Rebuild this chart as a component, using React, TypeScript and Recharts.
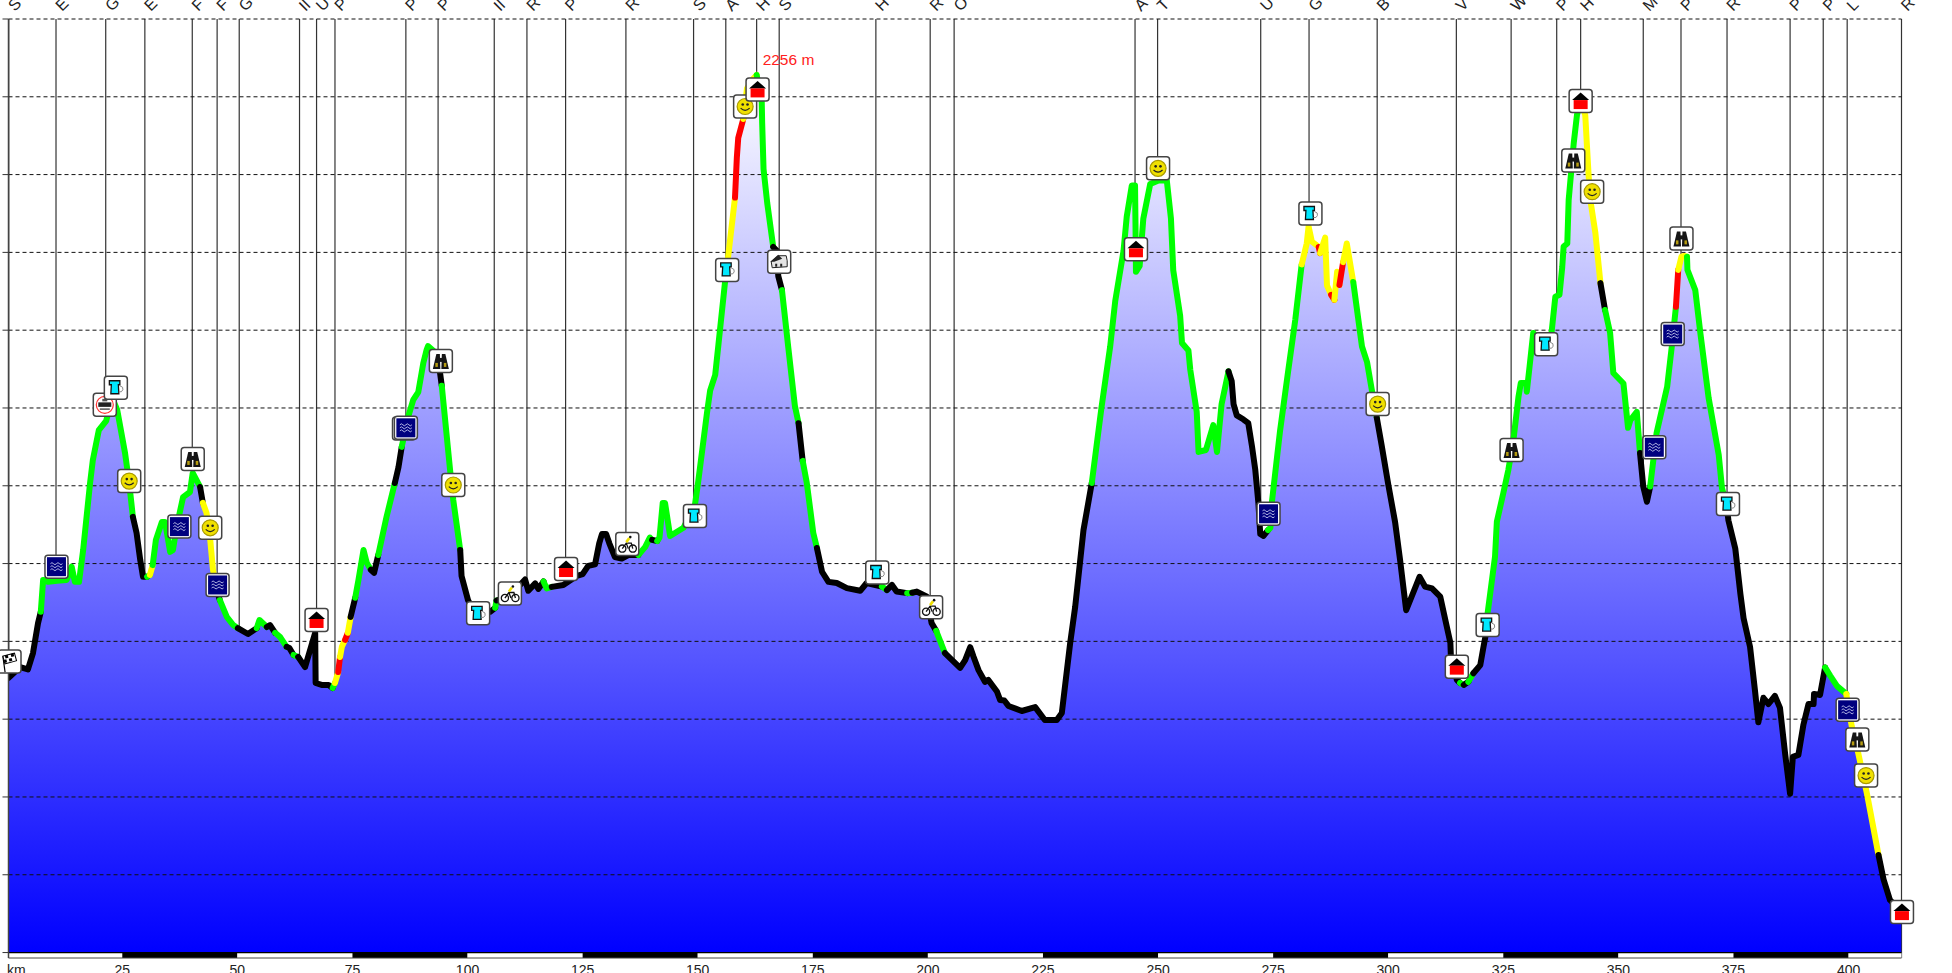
import React from 'react';
import {
  ComposedChart,
  Area,
  Line,
  XAxis,
  YAxis,
  CartesianGrid,
  ReferenceLine,
  ReferenceArea,
  ReferenceDot,
} from 'recharts';

const FONT = '"Liberation Sans", Arial, sans-serif';

// route profile, km and metres
const km = [
  0.3, 2.8, 4.5, 5.6, 6.7, 7.3, 7.8, 8.9, 10.8, 12.9, 14.0, 14.7, 15.6, 16.5, 18.0, 18.6, 19.9, 21.5, 22.8, 23.9,
  25.6, 26.5, 27.3, 28.1, 28.9, 29.5, 30.4, 31.0, 31.6, 32.3, 33.6, 34.3, 35.4, 36.0, 36.8, 38.2, 39.7, 40.3, 41.9, 42.5,
  43.3, 44.1, 44.7, 45.5, 46.2, 47.7, 49.1, 50.1, 52.3, 54.2, 54.8, 56.4, 57.1, 58.2, 59.3, 60.7, 61.3, 62.2, 63.2, 64.7,
  66.9, 67.0, 68.3, 69.8, 70.7, 71.2, 71.9, 72.3, 72.7, 73.4, 74.0, 74.6, 75.6, 76.3, 77.4, 78.1, 79.0, 79.7, 80.6, 82.4,
  84.2, 85.0, 85.7, 87.1, 88.2, 89.3, 90.4, 91.1, 91.4, 92.9, 94.0, 94.4, 96.2, 96.9, 98.4, 98.7, 100.1, 101.4, 104.9, 106.0,
  106.3, 109.2, 112.5, 113.2, 114.7, 115.4, 116.5, 117.2, 118.3, 120.8, 123.7, 125.0, 126.2, 127.7, 128.6, 129.2, 130.1, 130.8, 132.0, 133.5,
  134.9, 137.1, 138.6, 139.6, 140.1, 141.2, 141.7, 142.4, 142.9, 144.0, 146.9, 149.4, 150.1, 152.0, 152.7, 153.8, 154.5, 155.9, 156.2, 156.7,
  158.1, 158.5, 158.8, 159.9, 160.7, 161.8, 162.8, 163.9, 164.0, 164.3, 165.1, 166.4, 167.2, 167.5, 168.3, 169.7, 171.1, 171.9, 172.8, 173.7,
  175.1, 175.9, 177.0, 178.4, 180.2, 182.4, 185.3, 186.7, 190.0, 191.1, 192.2, 193.2, 195.5, 196.6, 197.6, 199.8, 200.8, 201.8, 203.7, 207.0,
  208.1, 209.2, 209.9, 211.0, 212.4, 213.1, 215.0, 215.7, 216.6, 217.5, 220.4, 223.3, 225.4, 228.0, 229.1, 230.9, 232.0, 233.8, 235.6,
  237.7, 239.6, 240.7, 242.5, 243.2, 244.3, 245.0, 245.1, 245.2, 246.0, 246.8, 248.3, 250.1, 251.9, 252.8, 253.3, 254.8, 255.2, 256.6, 257.0,
  258.4, 258.8, 260.4, 262.0, 262.8, 263.8, 265.3, 266.0, 266.4, 267.1, 268.5, 269.6, 270.4, 271.1, 271.8, 272.2, 272.9, 273.9, 274.4, 274.7,
  276.5, 278.3, 279.8, 281.2, 282.3, 282.7, 283.4, 284.9, 285.2, 286.3, 286.7, 287.6, 288.3, 288.9, 289.4, 290.2, 291.0, 292.4, 294.3, 295.4,
  296.4, 297.5, 298.6, 300.0, 301.5, 302.6, 303.9, 306.8, 308.0, 309.5, 311.3, 312.4, 313.5, 313.6, 314.9, 315.6, 316.4, 317.4, 318.5, 320.0,
  320.7, 321.3, 321.6, 323.2, 323.6, 325.0, 326.1, 327.2, 328.3, 328.8, 330.0, 330.1, 330.7, 331.5, 332.8, 335.0, 335.5, 336.3, 337.2, 337.8, 338.1, 338.9, 339.2, 340.3, 341.0,
  341.8, 342.8, 343.5, 343.9, 345.0, 346.1, 347.1, 348.2, 348.9, 351.1, 352.1, 352.6, 354.0, 354.7, 355.4, 356.2, 356.9, 358.3, 360.6, 361.6,
  362.5, 363.0, 363.7, 364.3, 364.9, 365.0, 366.7, 367.8, 369.6, 371.8, 372.5, 373.5, 373.9, 375.4, 376.5, 377.2, 378.6, 379.7, 380.4, 381.5,
  382.6, 384.0, 385.1, 386.2, 387.3, 387.9, 389.1, 390.2, 391.3, 392.4, 392.5, 393.8, 394.9, 396.0, 397.5, 399.5, 400.7, 402.1, 404.0, 406.5,
  407.6, 409.0, 411.5,
];

const elevation = [
  706, 734, 728, 770, 847, 876, 958, 953, 956, 958, 992, 953, 953, 1035, 1207, 1266, 1343, 1367, 1426, 1395,
  1284, 1207, 1120, 1079, 1009, 966, 966, 971, 996, 1061, 1107, 1107, 1030, 1035, 1094, 1171, 1184, 1233, 1197, 1156,
  1130, 1061, 984, 932, 906, 863, 842, 834, 819, 834, 855, 837, 842, 822, 811, 786, 783, 765, 760, 734,
  822, 693, 688, 688, 680, 693, 721, 760, 786, 804, 822, 863, 912, 958, 1035, 1002, 984, 976, 1022, 1120,
  1207, 1248, 1300, 1377, 1421, 1441, 1516, 1549, 1559, 1544, 1493, 1457, 1241, 1163, 1035, 968, 906, 876, 876, 886,
  905, 917, 959, 930, 949, 935, 954, 936, 940, 945, 968, 973, 994, 998, 1052, 1076, 1076, 1052, 1017, 1013,
  1022, 1022, 1043, 1067, 1061, 1058, 1067, 1156, 1156, 1071, 1092, 1151, 1210, 1386, 1445, 1485, 1563, 1720, 1750, 1798,
  1941, 2044, 2094, 2143, 2221, 2243, 2256, 2192, 2133, 2014, 1927, 1814, 1804, 1739, 1703, 1553, 1406, 1361, 1264, 1207,
  1079, 1040, 979, 953, 950, 937, 930, 950, 941, 932, 945, 928, 924, 925, 928, 915, 847, 827, 770, 732,
  752, 785, 761, 726, 696, 701, 671, 649, 648, 634, 621, 631, 598, 598, 616, 795, 889, 1086, 1207,
  1400, 1558, 1675, 1804, 1892, 1972, 1972, 1872, 1750, 1765, 1887, 1976, 1985, 1985, 1887, 1754, 1637, 1567, 1548, 1498,
  1390, 1287, 1292, 1356, 1287, 1410, 1494, 1469, 1410, 1381, 1371, 1361, 1302, 1243, 1155, 1076, 1071, 1086, 1092, 1155,
  1341, 1498, 1626, 1769, 1823, 1867, 1828, 1814, 1798, 1838, 1715, 1691, 1678, 1750, 1716, 1775, 1823, 1724, 1558, 1518,
  1449, 1376, 1302, 1204, 1106, 1007, 880, 966, 941, 936, 915, 855, 796, 765, 701, 693, 688, 696, 718, 739,
  786, 824, 873, 1018, 1108, 1181, 1241, 1318, 1429, 1464, 1464, 1442, 1506, 1593, 1575, 1575, 1596, 1686, 1691, 1762, 1815, 1823, 1935, 2081, 2153,
  2192, 2153, 2004, 1935, 1850, 1721, 1652, 1593, 1490, 1463, 1349, 1369, 1390, 1284, 1198, 1159, 1198, 1336, 1455, 1558,
  1660, 1755, 1789, 1791, 1789, 1755, 1703, 1593, 1426, 1279, 1194, 1151, 1111, 1038, 922, 859, 786, 670, 592, 655,
  639, 660, 629, 513, 408, 503, 508, 586, 639, 639, 665, 662, 733, 712, 685, 665, 581, 513, 408, 251,
  188, 135, 104,
];

// km where the gradient colour of the line changes
const gradeStartKm = [
  0.3, 7.3, 27.3, 30.4, 31.0, 31.6, 41.9, 42.5, 45.5, 46.2, 50.1, 54.2, 56.4, 58.2, 60.7, 62.2, 63.2, 70.7, 71.2, 71.9,
  72.3, 73.4, 74.0, 74.6, 75.6, 79.0, 80.6, 84.2, 85.7, 94.0, 94.4, 98.4, 106.0, 106.3, 116.5, 118.3, 137.1, 140.1, 141.2, 156.2,
  158.1, 159.9, 162.8, 166.4, 168.3, 171.9, 172.8, 175.9, 190.0, 191.1, 195.5, 196.6, 201.8, 203.7, 235.6, 265.3, 273.9, 281.2, 284.9, 285.2,
  287.6, 288.3, 289.4, 290.2, 292.4, 297.5, 315.6, 316.4, 317.4, 318.5, 321.3, 341.8, 346.1, 347.1, 354.7, 356.9, 362.5, 363.0, 364.9, 373.5,
  394.9, 399.5, 406.5,
];
const gradeColor = [
  'k', 'g', 'k', 'g', 'y', 'g', 'k', 'y', 'k', 'g', 'k', 'g', 'k', 'g', 'k', 'g', 'k', 'g', 'y', 'r',
  'y', 'r', 'y', 'k', 'g', 'k', 'g', 'k', 'g', 'k', 'g', 'k', 'g', 'k', 'g', 'k', 'g', 'k', 'g', 'y',
  'r', 'y', 'g', 'k', 'g', 'k', 'g', 'k', 'g', 'k', 'g', 'k', 'g', 'k', 'g', 'k', 'g', 'y', 'r', 'y',
  'r', 'y', 'r', 'y', 'g', 'k', 'g', 'k', 'g', 'k', 'g', 'y', 'k', 'g', 'k', 'g', 'r', 'y', 'g', 'k',
  'g', 'y', 'k',
];
const gradeStroke: Record<string, string> = { k: '#000000', g: '#00ff00', y: '#ffff00', r: '#ff0000' };

// waypoints along the top, names are cut off in the reference
const waypointKm = [
  0.33, 10.6, 21.4, 29.9, 40.2, 45.6, 50.4, 63.5, 67.2, 71.2, 86.6, 93.6, 105.8, 112.9, 121.3, 134.4, 149.1, 156.1, 162.8, 167.7,
  188.7, 200.5, 205.7, 245.0, 249.9, 272.3, 282.8, 297.6, 314.8, 326.7, 336.6, 341.8, 355.4, 363.6, 373.6, 387.3, 394.5, 399.7, 411.5,
];
const waypointNames = [
  'S', 'E', 'G', 'E', 'F', 'F', 'G', 'Il', 'U', 'P', 'P', 'P', 'Il', 'R', 'P', 'R', 'S', 'A', 'H', 'S',
  'H', 'R', 'O', 'A', 'T', 'U', 'G', 'B', 'V', 'W', 'P', 'H', 'M', 'P', 'R', 'P', 'P', 'L', 'R',
];

// service icons
const markerKm = [
  0.5, 10.7, 21.2, 23.6, 26.5, 40.3, 37.4, 44.1, 45.7, 67.2, 86.2, 86.6, 94.2, 96.9, 102.3, 109.2, 121.4, 134.7, 149.4, 156.4, 160.3,
  163.0, 167.7, 189.0, 200.7, 245.2, 250.0, 274.0, 283.1, 297.7, 314.9, 321.6, 326.8, 334.3, 340.2, 344.3, 341.8, 357.8, 361.8, 363.7, 373.8,
  399.8, 401.9, 403.8, 411.6,
];
const markerElev = [
  748, 992, 1408, 1452, 1212, 1269, 1095, 1092, 945, 855, 1347, 1349, 1521, 1202, 872, 923, 986, 1050, 1122, 1755, 2175,
  2219, 1776, 977, 888, 1808, 2016, 1128, 1900, 1410, 735, 842, 1292, 1564, 2036, 1956, 2189, 1299, 1590, 1836, 1153,
  624, 548, 455, 104,
];
const markerIcon = [
  'flag', 'water', 'train', 'mug', 'smile', 'binoc', 'water', 'smile', 'water', 'house', 'water', 'water', 'binoc', 'smile', 'mug', 'bike', 'house', 'bike', 'mug', 'mug', 'smile',
  'house', 'hut', 'mug', 'bike', 'house', 'smile', 'water', 'mug', 'smile', 'house', 'mug', 'binoc', 'mug', 'binoc', 'smile', 'house', 'water', 'water', 'binoc', 'mug',
  'water', 'binoc', 'smile', 'house',
];

const elevationTicks = [0, 200, 400, 600, 800, 1000, 1200, 1400, 1600, 1800, 2000, 2200, 2400];
const kmTicks = [25, 50, 75, 100, 125, 150, 175, 200, 225, 250, 275, 300, 325, 350, 375, 400];
const peakKm = 162.8;
const peakElev = 2256;
const xDomain: [number, number] = [0.28, 411.5];
const stripFloor = -14;

const profile = km.map((k, i) => ({ km: k, elev: elevation[i] }));

const gradeRuns = gradeStartKm.map((start, i) => {
  const end = i + 1 < gradeStartKm.length ? gradeStartKm[i + 1] : xDomain[1];
  return {
    color: gradeStroke[gradeColor[i]],
    points: profile.filter((p) => p.km >= start && p.km <= end),
  };
});

const stripEdges = [xDomain[0], ...kmTicks, xDomain[1]];

function Icon({ type }: { type: string }) {
  if (type === 'water') {
    return (
      <g>
        <rect x={-9.5} y={-9.5} width={19} height={19} fill="#00007f" />
        {[-3, 0, 3].map((d) => (
          <path key={d} d={`M-6 ${d}q1.5 -2 3 0t3 0t3 0t3 0`} fill="none" stroke="#dfe4ff" strokeWidth={0.8} />
        ))}
      </g>
    );
  }
  if (type === 'mug') {
    return (
      <g>
        <path d="M-6.5 -7H4V-3H2.5L3 6H-5L-4.5 -3H-6.5Z" fill="#00e8ff" stroke="#111" strokeWidth={1.3} />
        <path d="M4 -2q4 1 3 4t-4 2" fill="none" stroke="#888" strokeWidth={1} />
      </g>
    );
  }
  if (type === 'smile') {
    return (
      <g>
        <circle r={8} fill="#f0e000" stroke="#a89a00" strokeWidth={1.2} />
        <circle cx={-2.4} cy={-2} r={1.3} fill="#222" />
        <circle cx={2.4} cy={-2} r={1.3} fill="#222" />
        <path d="M-4.5 1.6q4.5 4.5 9 0" fill="none" stroke="#222" strokeWidth={1.2} />
      </g>
    );
  }
  if (type === 'binoc') {
    return (
      <g>
        <path d="M-8 8L-4.5 -7H-1L-0.5 8Z" fill="#151515" />
        <path d="M0.5 8L1 -7H4.5L8 8Z" fill="#151515" />
        <rect x={-1.5} y={-3} width={3} height={4} fill="#151515" />
        <rect x={-5.5} y={2} width={2.5} height={4} fill="#b59b10" />
        <rect x={3} y={2} width={2.5} height={4} fill="#b59b10" />
      </g>
    );
  }
  if (type === 'house') {
    return (
      <g>
        <path d="M0 -8.5L8.5 -1H-8.5Z" fill="#000" />
        <rect x={-7} y={-1} width={14} height={9} fill="#ff0000" />
      </g>
    );
  }
  if (type === 'hut') {
    return (
      <g>
        <path d="M-8 0L-1 -6L7 -6L8 -1L8 5L-7 6Z" fill="#e4e4e4" stroke="#222" strokeWidth={1} />
        <path d="M-9 0L-1 -7L3 -3L-5 0Z" fill="#222" />
        <rect x={-4} y={2} width={2} height={3} fill="#222" />
        <rect x={1} y={2} width={2} height={3} fill="#222" />
      </g>
    );
  }
  if (type === 'bike') {
    return (
      <g fill="none" stroke="#111" strokeWidth={1.3}>
        <circle cx={-5} cy={4.5} r={3.6} />
        <circle cx={5.5} cy={4.5} r={3.6} />
        <path d="M-5 4.5L-1 -1L4 -1L5.5 4.5M-1 -1L1 4.5" />
        <path d="M-1 -2L2 -6" stroke="#f0e000" strokeWidth={2.6} />
        <circle cx={3} cy={-7} r={1.3} fill="#111" stroke="none" />
      </g>
    );
  }
  if (type === 'flag') {
    return (
      <g transform="rotate(-15)">
        <path d="M-7 9L-5 -7" stroke="#000" strokeWidth={1.2} />
        <rect x={-5} y={-7} width={12} height={8} fill="#fff" stroke="#000" strokeWidth={1} />
        <rect x={-3} y={-7} width={3} height={3} fill="#000" />
        <rect x={3} y={-7} width={3} height={3} fill="#000" />
        <rect x={0} y={-3} width={3} height={3} fill="#000" />
        <rect x={-5} y={-3} width={2.5} height={3} fill="#000" />
      </g>
    );
  }
  // train sign
  return (
    <g>
      <circle r={8.5} fill="#fff" stroke="#ff3030" strokeWidth={1.2} />
      <rect x={-6.5} y={-2.5} width={13} height={4.5} fill="#222" />
      <rect x={-2.5} y={-6} width={5} height={2.5} fill="#555" />
      <rect x={-5} y={3.5} width={10} height={1.5} fill="#555" />
    </g>
  );
}

function MarkerShape(props: any) {
  const { cx, cy, type } = props;
  return (
    <g transform={`translate(${cx},${cy})`}>
      <rect x={-11.5} y={-11.5} width={23} height={23} rx={3} fill="#fff" stroke="#444" strokeWidth={1.5} />
      <Icon type={type} />
    </g>
  );
}

function WaypointTick(props: any) {
  const { x, payload } = props;
  const name = waypointNames[waypointKm.indexOf(payload.value)];
  return (
    <g transform={`translate(${x + 6},12) rotate(-45)`}>
      <text x={0} y={0} fontFamily={FONT} fontSize={16} fill="#222">
        {name}
      </text>
    </g>
  );
}

function KmTick(props: any) {
  const { x, payload } = props;
  const isUnit = payload.value === xDomain[0];
  return (
    <text x={isUnit ? 7 : x} y={975} fontFamily={FONT} fontSize={14} fill="#222" textAnchor={isUnit ? 'start' : 'middle'}>
      {isUnit ? 'km' : payload.value}
    </text>
  );
}

export default function App() {
  return (
    <div style={{ position: 'absolute', left: 0, top: 0, width: 1952, height: 973, background: '#fff', overflow: 'hidden' }}>
      <ComposedChart width={1952} height={973} data={profile} margin={{ top: 0, right: 50.5, bottom: 0, left: 0 }}>
        <defs>
          <linearGradient id="profileFill" x1="0" y1="0" x2="0" y2="1">
            <stop offset="0%" stopColor="#ffffff" />
            <stop offset="100%" stopColor="#0000ff" />
          </linearGradient>
        </defs>
        <XAxis
          dataKey="km"
          type="number"
          domain={xDomain}
          allowDataOverflow
          ticks={[xDomain[0], ...kmTicks]}
          interval={0}
          height={15}
          tickLine={false}
          axisLine={{ stroke: '#444' }}
          tick={<KmTick />}
        />
        <XAxis
          xAxisId="top"
          orientation="top"
          dataKey="km"
          type="number"
          domain={xDomain}
          allowDataOverflow
          ticks={waypointKm}
          interval={0}
          height={19}
          tickLine={false}
          axisLine={false}
          tick={<WaypointTick />}
        />
        <YAxis
          dataKey="elev"
          type="number"
          width={8.5}
          domain={[stripFloor, 2400]}
          ticks={elevationTicks}
          interval={0}
          tickSize={6}
          tick={() => <g />}
          tickLine={{ stroke: '#333' }}
          axisLine={{ stroke: '#444', strokeWidth: 1.5 }}
        />
        <CartesianGrid horizontal={false} verticalValues={waypointKm} stroke="#333" strokeWidth={1.2} />
        <Area
          dataKey="elev"
          type="linear"
          baseValue={0}
          stroke="none"
          fill="url(#profileFill)"
          fillOpacity={1}
          dot={false}
          activeDot={false}
          isAnimationActive={false}
        />
        {elevationTicks.slice(1).map((v) => (
          <ReferenceLine key={v} y={v} stroke="#111" strokeWidth={1} strokeDasharray="4 3" />
        ))}
        {stripEdges.slice(0, -1).map((left, i) => (
          <ReferenceArea
            key={left}
            x1={left}
            x2={stripEdges[i + 1]}
            y1={stripFloor}
            y2={0}
            fill={i % 2 === 0 ? '#ffffff' : '#000000'}
            fillOpacity={1}
            stroke="none"
          />
        ))}
        <ReferenceLine y={0} stroke="#000" strokeWidth={1.2} />
        {gradeRuns.map((run, i) => (
          <Line
            key={i}
            data={run.points}
            dataKey="elev"
            type="linear"
            stroke={run.color}
            strokeWidth={6}
            strokeLinecap="round"
            strokeLinejoin="round"
            dot={false}
            activeDot={false}
            legendType="none"
            isAnimationActive={false}
          />
        ))}
        {markerKm.map((k, i) => (
          <ReferenceDot
            key={i}
            x={k}
            y={markerElev[i]}
            ifOverflow="visible"
            shape={(p: any) => <MarkerShape {...p} type={markerIcon[i]} />}
          />
        ))}
        <ReferenceDot
          x={peakKm}
          y={peakElev}
          ifOverflow="visible"
          shape={(p: any) => (
            <text x={p.cx + 6} y={p.cy - 10} fontFamily={FONT} fontSize={15.5} fill="#ff2020">
              {peakElev} m
            </text>
          )}
        />
      </ComposedChart>
    </div>
  );
}
